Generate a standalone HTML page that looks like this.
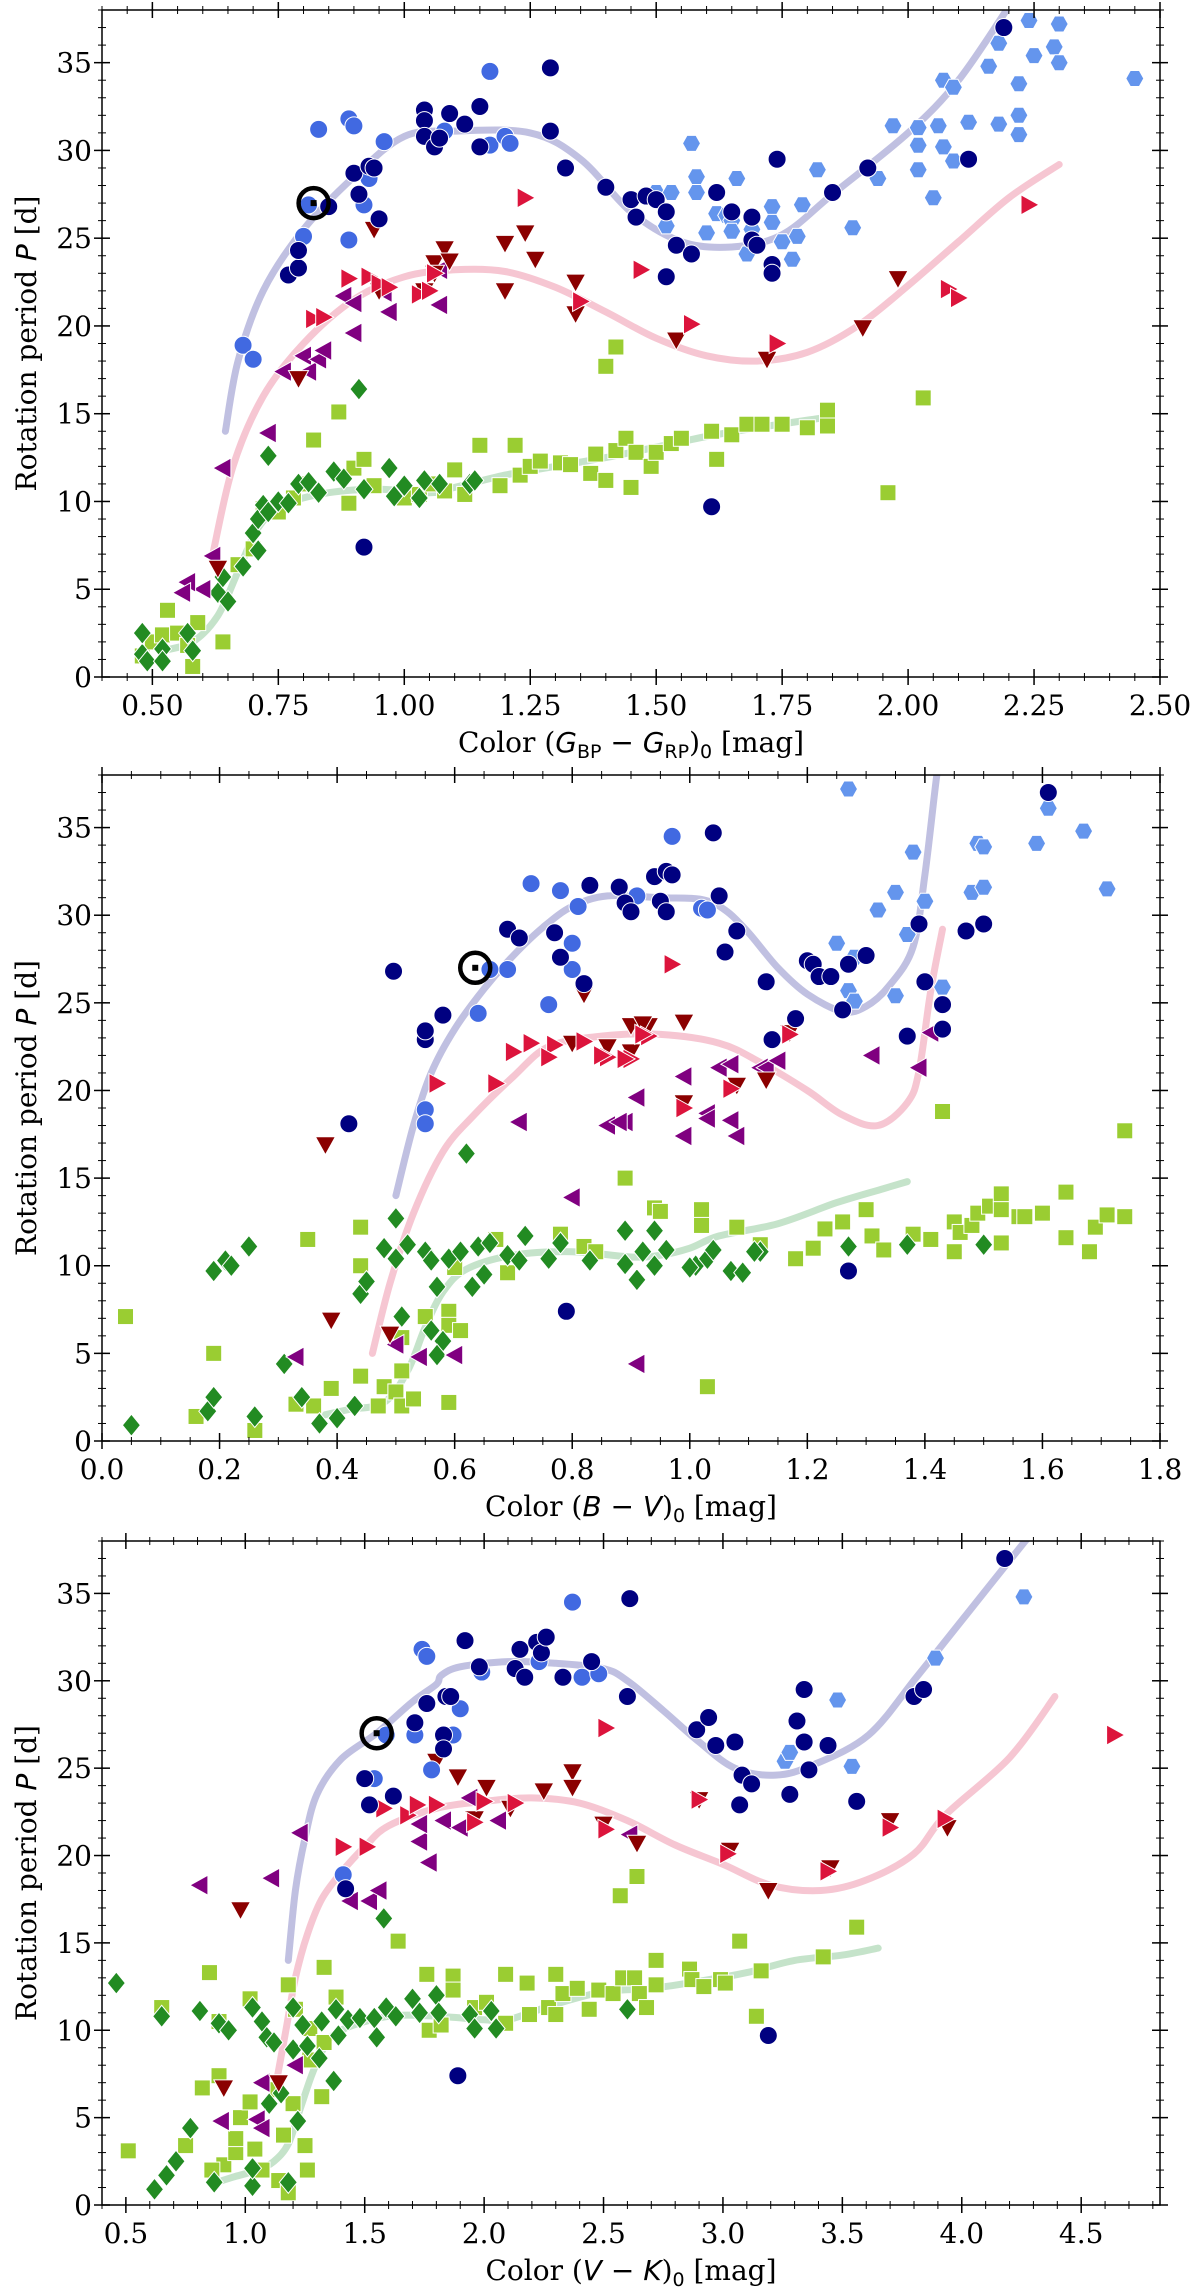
<!DOCTYPE html>
<html><head><meta charset="utf-8">
<style>
html,body{margin:0;padding:0;background:#fff;}
svg{display:block;}
text{font-family:"DejaVu Serif","Liberation Serif",serif;fill:#000;}
</style></head>
<body>
<svg id="fig" width="1200" height="2290" viewBox="0 0 1200 2290" xmlns="http://www.w3.org/2000/svg"></svg>
<script>
// ===== Panel 1 : (G_BP - G_RP)_0 =====
const p1Navy=[[0.77,22.9],[0.79,23.3],[0.79,24.3],[0.85,26.8],[0.90,28.7],[0.91,27.5],[0.93,29.1],[0.94,29.0],[0.95,26.1],[1.04,32.3],[1.04,31.7],[1.04,30.8],[1.06,30.2],[1.07,30.7],[1.09,32.1],[1.12,31.5],[1.15,32.5],[1.15,30.2],[1.29,34.7],[1.29,31.1],[1.32,29.0],[1.40,27.9],[1.45,27.2],[1.46,26.2],[1.48,27.4],[1.50,27.2],[1.52,26.5],[1.52,22.8],[1.54,24.6],[1.57,24.1],[1.62,27.6],[1.65,26.5],[1.69,26.2],[1.69,24.9],[1.70,24.6],[1.73,23.5],[1.73,23.0],[1.74,29.5],[1.85,27.6],[1.92,29.0],[2.12,29.5],[2.19,37.0],[0.92,7.4],[1.61,9.7]];
const p1Royal=[[0.68,18.9],[0.70,18.1],[0.80,25.1],[0.83,31.2],[0.89,31.8],[0.90,31.4],[0.89,24.9],[0.92,26.9],[0.93,28.4],[0.96,30.5],[1.08,31.1],[1.17,34.5],[1.17,30.3],[1.20,30.8],[1.21,30.4],[0.81,26.9]];
const p1Hex=[[1.50,27.6],[1.53,27.6],[1.52,25.7],[1.57,30.4],[1.58,28.5],[1.58,27.6],[1.60,25.3],[1.62,26.4],[1.64,26.3],[1.65,26.0],[1.65,25.4],[1.66,28.4],[1.68,24.1],[1.69,25.5],[1.73,26.8],[1.73,25.9],[1.75,24.8],[1.78,25.1],[1.77,23.8],[1.79,26.9],[1.82,28.9],[1.89,25.6],[1.94,28.4],[1.97,31.4],[2.02,31.3],[2.02,30.3],[2.02,28.9],[2.05,27.3],[2.06,31.4],[2.07,30.2],[2.09,29.4],[2.07,34.0],[2.09,33.6],[2.12,31.6],[2.16,34.8],[2.18,36.1],[2.18,31.5],[2.22,32.0],[2.22,30.9],[2.22,33.8],[2.24,37.4],[2.25,35.4],[2.29,35.9],[2.30,35.0],[2.30,37.2],[2.45,34.1]];
const p1DarkRed=[[0.79,17.0],[0.94,25.5],[0.95,22.0],[1.04,22.0],[1.06,23.6],[1.08,24.4],[1.09,23.7],[1.20,24.7],[1.20,22.0],[1.24,25.3],[1.26,23.8],[1.34,22.5],[1.34,20.7],[1.54,19.2],[1.72,18.1],[1.91,19.9],[1.98,22.7],[0.63,6.2],[1.06,23.0]];
const p1Crimson=[[0.82,20.4],[0.84,20.5],[0.89,22.7],[0.93,22.8],[0.95,22.4],[1.03,21.8],[1.05,22.0],[1.06,23.0],[1.24,27.3],[1.35,21.4],[1.47,23.2],[1.57,20.1],[1.74,19.0],[2.08,22.1],[2.10,21.6],[2.24,26.9],[0.97,22.2]];
const p1Purple=[[0.64,11.9],[0.73,13.9],[0.76,17.4],[0.80,18.3],[0.81,17.4],[0.83,18.1],[0.84,18.6],[0.88,21.7],[0.90,21.3],[0.90,19.6],[0.96,21.9],[0.97,20.8],[1.07,21.2],[1.07,23.2],[0.60,5.0],[0.57,5.4],[0.56,4.8],[0.62,6.9]];
const p1Square=[[0.48,1.2],[0.50,2.0],[0.52,2.4],[0.53,3.8],[0.55,2.5],[0.57,1.8],[0.58,0.6],[0.59,3.1],[0.64,2.0],[0.67,6.4],[0.70,7.3],[0.72,9.6],[0.75,9.4],[0.78,10.2],[0.80,11.0],[0.82,13.5],[0.87,15.1],[0.90,11.9],[0.89,9.9],[0.94,10.9],[0.92,12.4],[1.00,10.2],[1.03,10.4],[1.05,11.0],[1.08,10.6],[1.10,11.8],[1.12,10.4],[1.15,13.2],[1.19,10.9],[1.22,13.2],[1.23,11.5],[1.25,12.0],[1.27,12.3],[1.31,12.2],[1.33,12.1],[1.37,11.6],[1.38,12.7],[1.40,11.2],[1.42,18.8],[1.40,17.7],[1.42,12.9],[1.44,13.6],[1.46,12.8],[1.45,10.8],[1.49,12.0],[1.50,12.8],[1.53,13.3],[1.55,13.6],[1.61,14.0],[1.62,12.4],[1.65,13.8],[1.68,14.4],[1.71,14.4],[1.75,14.4],[1.80,14.2],[1.84,15.2],[1.84,14.3],[1.96,10.5],[2.03,15.9]];
const p1Diamond=[[0.48,1.3],[0.48,2.5],[0.49,0.9],[0.52,1.6],[0.52,0.9],[0.57,2.5],[0.58,1.5],[0.63,4.8],[0.64,5.7],[0.65,4.3],[0.68,6.3],[0.70,8.2],[0.71,7.2],[0.71,9.0],[0.72,9.8],[0.73,9.4],[0.75,10.0],[0.79,11.0],[0.81,11.1],[0.83,10.5],[0.86,11.7],[0.88,11.3],[0.91,16.4],[0.92,10.7],[0.97,11.9],[0.98,10.3],[1.00,10.9],[1.03,10.2],[1.04,11.2],[1.07,11.0],[1.13,11.0],[1.14,11.2],[0.73,12.6],[0.77,9.9]];
const p1CurveBlue=[[0.645,14],[0.67,18],[0.72,22],[0.8,25.5],[0.9,28.5],[1.0,30.8],[1.1,31.1],[1.25,31.0],[1.35,29.5],[1.45,26.5],[1.55,24.8],[1.65,24.5],[1.75,25.2],[1.85,27.5],[2.0,31],[2.1,34],[2.2,38.2]];
const p1CurvePink=[[0.62,7],[0.66,12],[0.72,16],[0.8,19],[0.9,21.5],[1.0,22.8],[1.1,23.2],[1.2,23.1],[1.3,22.2],[1.4,20.8],[1.5,19.3],[1.6,18.3],[1.7,18.0],[1.8,18.5],[1.9,20],[2.0,22.3],[2.1,24.8],[2.2,27.3],[2.3,29.2]];
const p1CurveGreen=[[0.52,1.5],[0.58,2],[0.63,3.5],[0.67,6],[0.71,8.5],[0.76,9.8],[0.85,10.5],[0.95,10.7],[1.05,10.5],[1.1,10.8],[1.2,11.5],[1.3,12.0],[1.4,12.5],[1.5,13.1],[1.6,13.7],[1.7,14.2],[1.84,14.8]];
const p1Sun=[0.82,27];
const p1XTicks=["0.50","0.75","1.00","1.25","1.50","1.75","2.00","2.25","2.50"];

// ===== Panel 2 : (B - V)_0 =====
const p2Navy=[[0.496,26.8],[0.42,18.1],[0.55,22.9],[0.55,23.4],[0.58,24.3],[0.69,29.2],[0.71,28.7],[0.77,29.0],[0.78,27.6],[0.82,26.1],[0.83,31.7],[0.88,31.6],[0.89,30.7],[0.90,30.2],[0.94,32.2],[0.96,32.5],[0.97,32.3],[0.95,30.8],[0.96,30.2],[1.04,34.7],[1.05,31.1],[1.08,29.1],[1.06,27.9],[1.13,26.2],[1.18,24.1],[1.14,22.9],[1.20,27.4],[1.21,27.2],[1.22,26.5],[1.24,26.5],[1.27,27.2],[1.30,27.7],[1.26,24.6],[1.27,9.7],[1.39,29.5],[1.47,29.1],[1.50,29.5],[1.40,26.2],[1.43,24.9],[1.43,23.5],[1.37,23.1],[1.61,37.0],[0.79,7.4]];
const p2Royal=[[0.73,31.8],[0.78,31.4],[0.81,30.5],[0.80,28.4],[0.80,26.9],[0.69,26.9],[0.66,26.9],[0.64,24.4],[0.76,24.9],[0.55,18.9],[0.55,18.1],[0.91,31.1],[0.97,34.5],[1.02,30.4],[1.03,30.3]];
const p2Hex=[[1.27,37.2],[1.38,33.6],[1.35,31.3],[1.32,30.3],[1.25,28.4],[1.28,27.6],[1.27,25.7],[1.28,25.1],[1.35,25.4],[1.37,28.9],[1.40,30.8],[1.49,34.1],[1.50,33.9],[1.48,31.3],[1.50,31.6],[1.43,25.9],[1.59,34.1],[1.61,36.1],[1.67,34.8],[1.71,31.5]];
const p2DarkRed=[[0.38,16.9],[0.39,6.9],[0.49,6.1],[0.82,25.5],[0.86,22.5],[0.80,22.7],[0.90,23.7],[0.93,23.7],[0.99,23.9],[0.90,22.2],[0.92,23.8],[1.13,20.6],[1.08,20.3],[0.99,19.3],[1.17,23.3]];
const p2Crimson=[[0.57,20.4],[0.67,20.4],[0.70,22.2],[0.73,22.7],[0.77,22.6],[0.76,21.9],[0.82,22.8],[0.86,21.9],[0.90,21.8],[0.93,23.1],[0.97,27.2],[0.99,19.0],[0.92,23.2],[0.89,21.8],[1.07,20.1],[1.17,23.2],[0.85,22.0]];
const p2Purple=[[0.33,4.8],[0.50,5.5],[0.54,4.8],[0.60,4.9],[0.80,13.9],[0.71,18.2],[0.86,18.0],[0.89,18.2],[0.91,19.6],[0.91,4.4],[0.88,18.2],[0.99,20.8],[0.99,17.4],[1.05,21.3],[1.07,21.5],[1.03,18.7],[1.03,18.4],[1.07,18.3],[1.08,17.4],[1.12,21.3],[1.13,21.3],[1.15,21.7],[1.31,22.0],[1.41,23.3],[1.39,21.3]];
const p2Square=[[0.04,7.1],[0.19,5.0],[0.16,1.4],[0.26,0.6],[0.33,2.1],[0.35,11.5],[0.39,3.0],[0.36,2.0],[0.44,12.2],[0.44,10.0],[0.44,3.7],[0.47,2.0],[0.48,3.1],[0.50,2.8],[0.51,4.0],[0.51,5.9],[0.51,2.0],[0.53,2.4],[0.55,7.1],[0.59,7.4],[0.59,6.6],[0.61,6.3],[0.59,2.2],[0.60,9.9],[0.69,9.6],[0.89,15.0],[0.94,13.3],[0.95,13.1],[1.02,13.2],[1.02,12.3],[1.03,3.1],[1.08,12.2],[0.78,11.8],[0.67,11.5],[0.82,11.1],[0.84,10.8],[1.12,11.2],[1.18,10.4],[1.21,11.0],[1.23,12.1],[1.26,12.5],[1.30,13.2],[1.31,11.7],[1.33,10.9],[1.38,11.8],[1.41,11.5],[1.43,18.8],[1.45,12.5],[1.45,10.8],[1.46,11.9],[1.48,12.3],[1.49,13.0],[1.51,13.4],[1.53,14.1],[1.53,13.2],[1.53,11.3],[1.56,12.8],[1.57,12.8],[1.60,13.0],[1.64,14.2],[1.64,11.6],[1.68,10.8],[1.69,12.2],[1.71,12.9],[1.74,12.8],[1.74,17.7]];
const p2Diamond=[[0.05,0.9],[0.18,1.7],[0.19,2.5],[0.26,1.4],[0.19,9.7],[0.21,10.3],[0.22,10.0],[0.25,11.1],[0.31,4.4],[0.34,2.5],[0.37,1.0],[0.40,1.3],[0.43,2.0],[0.44,8.4],[0.45,9.1],[0.48,11.0],[0.50,10.4],[0.50,12.7],[0.52,11.2],[0.51,7.1],[0.55,10.8],[0.56,10.3],[0.56,6.3],[0.58,5.7],[0.57,4.9],[0.57,8.8],[0.59,10.4],[0.61,10.8],[0.62,16.4],[0.63,8.8],[0.64,11.1],[0.65,9.5],[0.66,11.3],[0.69,10.6],[0.71,10.3],[0.72,11.7],[0.76,10.4],[0.78,11.3],[0.83,10.3],[0.89,10.1],[0.89,12.0],[0.91,9.2],[0.92,10.8],[0.94,10.0],[0.94,12.0],[0.96,10.9],[1.01,10.0],[1.03,10.4],[1.04,10.9],[1.07,9.7],[1.12,10.8],[1.00,9.9],[1.09,9.6],[1.11,10.8],[1.27,11.1],[1.37,11.2],[1.50,11.2]];
const p2CurveBlue=[[0.50,14],[0.53,18],[0.56,21],[0.6,23.5],[0.65,25.8],[0.7,27.7],[0.75,29.3],[0.8,30.5],[0.86,31.1],[0.95,31.0],[1.02,30.9],[1.06,30.3],[1.1,29],[1.15,27],[1.2,25.5],[1.26,24.5],[1.30,24.8],[1.34,26.0],[1.38,28.2],[1.40,32.3],[1.42,37.9],[1.425,38.3]];
const p2CurvePink=[[0.46,5],[0.49,9],[0.53,13],[0.58,16.5],[0.63,18.5],[0.7,20.8],[0.76,22.5],[0.85,23.1],[0.95,23.2],[1.05,22.7],[1.12,21.6],[1.2,20],[1.26,18.6],[1.32,18.0],[1.37,19.3],[1.39,21.1],[1.41,25.7],[1.43,29.2]];
const p2CurveGreen=[[0.38,1.5],[0.42,1.8],[0.48,2.2],[0.52,4],[0.55,6.5],[0.58,8.5],[0.62,9.8],[0.7,10.6],[0.8,10.8],[0.9,10.5],[0.95,10.6],[1.0,11.0],[1.05,11.7],[1.15,12.4],[1.25,13.6],[1.33,14.4],[1.37,14.8]];
const p2Sun=[0.635,27];
const p2XTicks=["0.0","0.2","0.4","0.6","0.8","1.0","1.2","1.4","1.6","1.8"];

// ===== Panel 3 : (V - K)_0 =====
const p3Navy=[[1.50,24.4],[1.52,22.9],[1.62,23.4],[1.71,27.6],[1.76,28.7],[1.83,26.9],[1.83,26.1],[1.84,29.1],[1.86,29.1],[1.92,32.3],[1.98,30.8],[2.13,30.7],[2.15,31.8],[2.17,30.2],[2.22,32.2],[2.24,31.6],[2.26,32.5],[2.33,30.2],[2.45,31.1],[2.60,29.1],[2.61,34.7],[2.89,27.2],[2.94,27.9],[2.97,26.3],[3.05,26.5],[3.08,24.6],[3.12,24.1],[3.07,22.9],[3.28,23.5],[3.31,27.7],[3.34,29.5],[3.34,26.5],[3.36,24.9],[3.44,26.3],[1.42,18.1],[1.89,7.4],[3.19,9.7],[3.56,23.1],[3.80,29.1],[3.84,29.5],[4.18,37.0]];
const p3Royal=[[1.74,31.8],[1.76,31.4],[1.90,28.4],[1.87,26.9],[1.78,24.9],[1.71,26.9],[1.59,26.9],[1.54,24.4],[1.41,18.9],[1.99,30.5],[2.23,31.1],[2.41,30.2],[2.48,30.4],[2.37,34.5]];
const p3Hex=[[3.26,25.4],[3.28,25.9],[3.48,28.9],[3.54,25.1],[3.89,31.3],[4.26,34.8]];
const p3DarkRed=[[0.98,16.9],[0.91,6.7],[1.14,7.0],[1.80,25.4],[1.89,24.5],[2.01,23.9],[1.96,22.1],[2.11,22.7],[2.25,23.7],[2.37,24.8],[2.37,23.9],[2.50,21.8],[2.64,20.7],[3.19,18.0],[3.70,22.0],[3.94,21.6],[3.45,19.3],[3.03,20.3],[2.90,23.2]];
const p3Crimson=[[1.41,20.5],[1.51,20.5],[1.58,22.7],[1.68,22.3],[1.72,22.9],[1.80,22.9],[1.96,21.9],[2.00,23.1],[2.13,23.0],[2.51,27.3],[2.51,21.5],[2.90,23.2],[3.02,20.1],[3.44,19.1],[3.70,21.6],[3.93,22.1],[4.64,26.9]];
const p3Purple=[[0.81,18.3],[1.11,18.7],[1.23,21.3],[0.90,4.8],[1.07,7.0],[1.05,4.9],[1.07,4.4],[1.21,8.0],[1.44,17.4],[1.52,17.4],[1.56,18.0],[1.73,20.8],[1.77,19.6],[1.73,21.8],[1.83,22.0],[1.90,21.6],[1.94,23.3],[2.06,22.0],[2.61,21.2]];
const p3Square=[[0.51,3.1],[0.65,11.3],[0.75,3.4],[0.82,6.7],[0.85,13.3],[0.89,7.4],[0.89,10.5],[0.91,2.3],[0.86,2.0],[0.96,3.0],[0.96,3.8],[0.98,5.0],[1.02,5.9],[1.02,11.8],[1.04,3.2],[1.07,2.0],[1.13,6.6],[1.14,1.4],[1.16,4.0],[1.18,12.6],[1.18,0.7],[1.20,5.8],[1.21,11.2],[1.25,3.4],[1.26,2.0],[1.27,10.1],[1.32,6.2],[1.33,13.6],[1.27,8.3],[1.38,11.9],[1.33,9.3],[1.64,15.1],[1.76,13.2],[1.87,13.1],[1.87,12.3],[1.77,10.0],[1.82,10.3],[1.96,11.3],[2.01,11.6],[2.09,13.2],[2.09,10.4],[2.18,12.7],[2.19,10.9],[2.27,11.3],[2.30,13.2],[2.30,10.9],[2.33,12.1],[2.39,12.4],[2.44,11.2],[2.48,12.3],[2.54,12.1],[2.57,17.7],[2.58,13.0],[2.63,13.0],[2.64,18.8],[2.65,12.1],[2.68,11.3],[2.72,14.0],[2.72,12.6],[2.86,13.5],[2.87,12.9],[2.92,12.5],[2.99,12.9],[3.07,15.1],[3.14,10.8],[3.16,13.4],[3.42,14.2],[3.56,15.9],[3.01,12.7]];
const p3Diamond=[[0.46,12.7],[0.62,0.9],[0.67,1.7],[0.71,2.5],[0.77,4.4],[0.65,10.8],[0.81,11.1],[0.89,10.4],[0.93,10.0],[0.87,1.3],[1.03,11.3],[1.03,1.1],[1.03,2.1],[1.07,10.5],[1.09,9.6],[1.12,9.3],[1.10,5.8],[1.15,6.4],[1.18,1.3],[1.20,11.3],[1.20,8.9],[1.22,4.8],[1.24,10.3],[1.26,9.1],[1.31,8.4],[1.32,10.5],[1.37,7.1],[1.39,9.7],[1.38,11.2],[1.43,10.6],[1.48,10.7],[1.54,10.7],[1.55,9.6],[1.58,16.4],[1.59,11.3],[1.63,10.8],[1.70,11.8],[1.73,11.0],[1.80,12.0],[1.81,11.0],[1.94,10.9],[1.96,10.1],[2.03,11.1],[2.05,10.1],[2.60,11.2]];
const p3CurveBlue=[[1.18,14],[1.21,18],[1.25,21],[1.30,23.5],[1.40,25.5],[1.55,27],[1.7,28.8],[1.8,29.8],[1.82,30.3],[1.9,30.8],[2.1,31.1],[2.3,31.0],[2.5,30.7],[2.6,30.0],[2.75,28.3],[2.9,26.5],[3.05,25.0],[3.22,24.6],[3.38,25.2],[3.61,26.9],[3.81,30.2],[4.02,33.8],[4.26,37.9],[4.29,38.3]];
const p3CurvePink=[[1.13,7],[1.17,10],[1.21,13],[1.26,15.5],[1.32,17.5],[1.4,19],[1.5,20.5],[1.6,21.7],[1.8,22.7],[2.0,23.1],[2.2,23.3],[2.4,23.0],[2.6,22.0],[2.8,20.6],[3.0,19.5],[3.2,18.3],[3.41,18.0],[3.6,18.6],[3.8,20.1],[3.93,22.3],[4.2,25.6],[4.39,29.1]];
const p3CurveGreen=[[0.88,1.3],[0.95,1.6],[1.05,2.0],[1.12,2.5],[1.18,3.5],[1.23,5.5],[1.28,7.5],[1.33,9],[1.4,10],[1.6,10.8],[1.8,10.8],[2.0,10.6],[2.1,10.6],[2.3,11.5],[2.5,12.2],[2.7,12.4],[2.9,12.8],[3.1,13.3],[3.3,14.0],[3.5,14.3],[3.65,14.7]];
const p3Sun=[1.55,27];
const p3XTicks=["0.5","1.0","1.5","2.0","2.5","3.0","3.5","4.0","4.5"];

const yTicks=["0","5","10","15","20","25","30","35"];

const NS="http://www.w3.org/2000/svg";
const fig=document.getElementById('fig');
function mk(tag,attrs,parent){const e=document.createElementNS(NS,tag);for(const k in attrs)e.setAttribute(k,attrs[k]);(parent||fig).appendChild(e);return e;}
function smooth(P){
  let d='M'+P[0][0].toFixed(1)+','+P[0][1].toFixed(1);
  for(let i=0;i<P.length-1;i++){
    const p0=P[Math.max(0,i-1)],p1=P[i],p2=P[i+1],p3=P[Math.min(P.length-1,i+2)];
    const c1=[p1[0]+(p2[0]-p0[0])/6,p1[1]+(p2[1]-p0[1])/6];
    const c2=[p2[0]-(p3[0]-p1[0])/6,p2[1]-(p3[1]-p1[1])/6];
    d+=' C'+c1[0].toFixed(1)+','+c1[1].toFixed(1)+' '+c2[0].toFixed(1)+','+c2[1].toFixed(1)+' '+p2[0].toFixed(1)+','+p2[1].toFixed(1);
  }
  return d;
}

function panel(cfg){
  const g=mk('g',{});
  
  
  const L=102,R=1160,T=cfg.top,B=cfg.bottom;
  const xs=v=>L+(v-cfg.xmin)/(cfg.xmax-cfg.xmin)*(R-L);
  const ys=v=>B-(v/38)*(B-T);
  const cp=mk('clipPath',{id:'clip'+cfg.id},g);
  mk('rect',{x:L,y:T,width:R-L,height:B-T},cp);
  const plot=mk('g',{'clip-path':'url(#clip'+cfg.id+')'},g);
  function curve(arr,col,nm){
    const d=smooth(arr.map(p=>[xs(p[0]),ys(p[1])]));
    const c=mk('path',{d:d,fill:'none',stroke:col,'stroke-width':7,'stroke-linecap':'round','stroke-linejoin':'round'},plot);
    
    
  }
  curve(cfg.cb,'rgba(150,150,205,0.6)','gyro-curve-blue');
  curve(cfg.cp,'rgba(240,160,180,0.6)','gyro-curve-pink');
  curve(cfg.cg,'rgba(140,200,150,0.5)','gyro-curve-green');
  function pts(arr,shape,col,nm){
    arr.forEach(p=>{
      const x=xs(p[0]),y=ys(p[1]);let e;
      const st={fill:col,stroke:'#fff','stroke-width':1};
      if(shape==='circle'){e=mk('circle',Object.assign({cx:x,cy:y,r:9},st),plot);}
      else if(shape==='square'){e=mk('rect',Object.assign({x:x-8,y:y-8,width:16,height:16},st),plot);}
      else{
        let q;
        if(shape==='diamond')q=[[0,-11],[9,0],[0,11],[-9,0]];
        else if(shape==='down')q=[[-10,-8],[10,-8],[0,10]];
        else if(shape==='right')q=[[-8,-10],[10,0],[-8,10]];
        else if(shape==='left')q=[[8,-10],[-10,0],[8,10]];
        else if(shape==='hex')q=[[-9,0],[-4.5,-8],[4.5,-8],[9,0],[4.5,8],[-4.5,8]];
        e=mk('polygon',Object.assign({points:q.map(a=>(x+a[0]).toFixed(1)+','+(y+a[1]).toFixed(1)).join(' ')},st),plot);
      }
      
      
    });
  }
  pts(cfg.sq,'square','#9acd32','square-point');
  pts(cfg.di,'diamond','#228b22','diamond-point');
  pts(cfg.pu,'left','#800080','left-triangle-point');
  pts(cfg.dr,'down','#8b0000','down-triangle-point');
  pts(cfg.cr,'right','#dc143c','right-triangle-point');
  pts(cfg.hx,'hex','#6495ed','hexagon-point');
  pts(cfg.ro,'circle','#4169e1','royalblue-point');
  pts(cfg.nv,'circle','#000080','navy-point');
  const sx=xs(cfg.sun[0]),sy=ys(cfg.sun[1]);
  const s1=mk('circle',{cx:sx,cy:sy,r:15,fill:'none',stroke:'#000','stroke-width':4.5},plot);
  
  
  mk('rect',{x:sx-3,y:sy-3,width:6,height:6,fill:'#000'},plot);
  const fr=mk('rect',{x:L,y:T,width:R-L,height:B-T,fill:'none',stroke:'#000','stroke-width':1.5},g);
  
  
  const nMin=Math.round((cfg.xmax-cfg.xmin)/cfg.xminor);
  for(let i=0;i<=nMin;i++){
    const v=cfg.xmin+i*cfg.xminor;const x=xs(v);
    mk('line',{x1:x,x2:x,y1:B-4,y2:B+4,stroke:'#000','stroke-width':1},g);
    mk('line',{x1:x,x2:x,y1:T-4,y2:T+4,stroke:'#000','stroke-width':1},g);
  }
  cfg.xt.forEach(t=>{
    const x=xs(parseFloat(t));
    mk('line',{x1:x,x2:x,y1:B-8,y2:B+8,stroke:'#000','stroke-width':1.5},g);
    mk('line',{x1:x,x2:x,y1:T-8,y2:T+8,stroke:'#000','stroke-width':1.5},g);
    const tx=mk('text',{x:x,y:B+38,'font-size':28,'text-anchor':'middle'},g);
    tx.textContent=t;
    
    
  });
  for(let v=0;v<=38;v++){
    const y=ys(v);
    mk('line',{x1:L-4,x2:L+4,y1:y,y2:y,stroke:'#000','stroke-width':1},g);
    mk('line',{x1:R-4,x2:R+4,y1:y,y2:y,stroke:'#000','stroke-width':1},g);
  }
  yTicks.forEach(t=>{
    const y=ys(parseFloat(t));
    mk('line',{x1:L-8,x2:L+8,y1:y,y2:y,stroke:'#000','stroke-width':1.5},g);
    mk('line',{x1:R-8,x2:R+8,y1:y,y2:y,stroke:'#000','stroke-width':1.5},g);
    const tx=mk('text',{x:L-10,y:y+10,'font-size':28,'text-anchor':'end'},g);
    tx.textContent=t;
    
    
  });
  const yl=mk('text',{x:0,y:0,'font-size':28,'text-anchor':'middle',transform:'translate(36,'+((T+B)/2)+') rotate(-90)'},g);
  yl.innerHTML='Rotation period <tspan font-style="italic" font-family="DejaVu Sans, sans-serif">P</tspan> [d]';
  
  
  const xl=mk('text',{x:631,y:B+75,'font-size':28,'text-anchor':'middle'},g);
  xl.innerHTML=cfg.xlabel;
  
  
}
const SS='font-family="DejaVu Sans, sans-serif"';
panel({id:1,name:'panel-gbp-grp',top:10,bottom:677,xmin:0.4,xmax:2.5,xminor:0.05,xt:p1XTicks,
 nv:p1Navy,ro:p1Royal,hx:p1Hex,dr:p1DarkRed,cr:p1Crimson,pu:p1Purple,sq:p1Square,di:p1Diamond,cb:p1CurveBlue,cp:p1CurvePink,cg:p1CurveGreen,sun:p1Sun,
 xlabel:'Color (<tspan font-style="italic" '+SS+'>G</tspan><tspan '+SS+' font-size="19" dy="6">BP</tspan><tspan dy="-6" '+SS+'> − </tspan><tspan font-style="italic" '+SS+'>G</tspan><tspan '+SS+' font-size="19" dy="6">RP</tspan><tspan dy="-6">)</tspan><tspan '+SS+' font-size="19" dy="6">0</tspan><tspan dy="-6"> [mag]</tspan>'});
panel({id:2,name:'panel-b-v',top:775,bottom:1441,xmin:0,xmax:1.8,xminor:0.05,xt:p2XTicks,
 nv:p2Navy,ro:p2Royal,hx:p2Hex,dr:p2DarkRed,cr:p2Crimson,pu:p2Purple,sq:p2Square,di:p2Diamond,cb:p2CurveBlue,cp:p2CurvePink,cg:p2CurveGreen,sun:p2Sun,
 xlabel:'Color (<tspan font-style="italic" '+SS+'>B</tspan><tspan '+SS+'> − </tspan><tspan font-style="italic" '+SS+'>V</tspan>)<tspan '+SS+' font-size="19" dy="6">0</tspan><tspan dy="-6"> [mag]</tspan>'});
panel({id:3,name:'panel-v-k',top:1541,bottom:2205,xmin:0.4,xmax:4.83,xminor:0.1,xt:p3XTicks,
 nv:p3Navy,ro:p3Royal,hx:p3Hex,dr:p3DarkRed,cr:p3Crimson,pu:p3Purple,sq:p3Square,di:p3Diamond,cb:p3CurveBlue,cp:p3CurvePink,cg:p3CurveGreen,sun:p3Sun,
 xlabel:'Color (<tspan font-style="italic" '+SS+'>V</tspan><tspan '+SS+'> − </tspan><tspan font-style="italic" '+SS+'>K</tspan>)<tspan '+SS+' font-size="19" dy="6">0</tspan><tspan dy="-6"> [mag]</tspan>'});
</script>
</body></html>
